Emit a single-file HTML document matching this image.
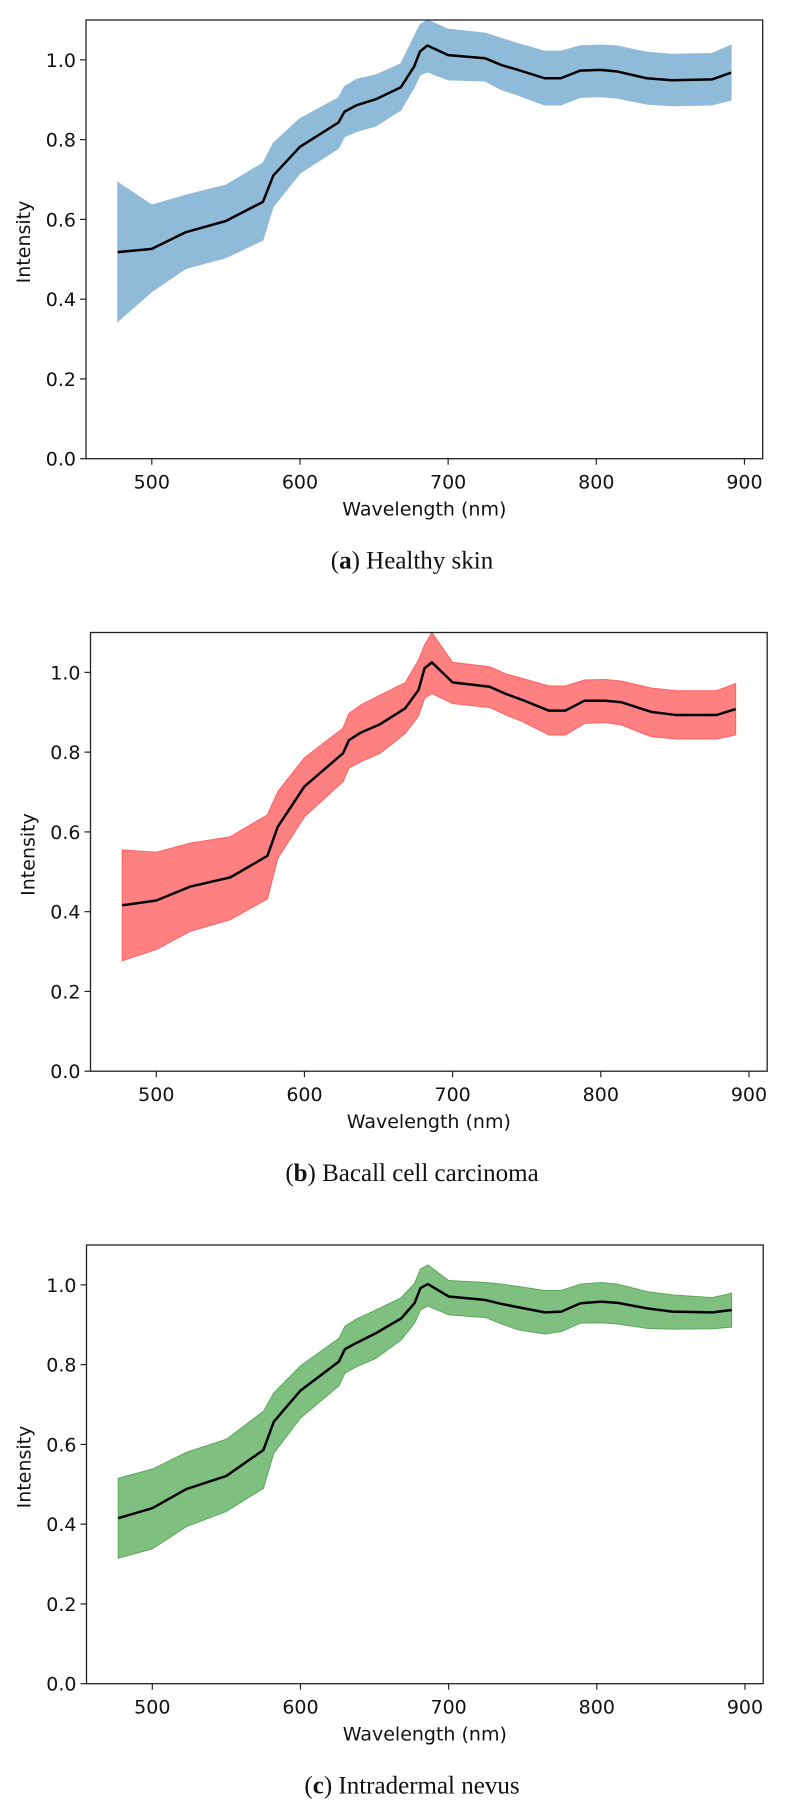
<!DOCTYPE html>
<html><head><meta charset="utf-8">
<style>
html,body{margin:0;padding:0;background:#fff;}
svg{display:block;}
.tick{font-family:"DejaVu Sans","Liberation Sans",sans-serif;font-size:19px;fill:#111;}
.cap{font-family:"Liberation Serif","DejaVu Serif",serif;font-size:25px;fill:#111;}
</style></head>
<body>
<svg id="fig" width="786" height="1812" viewBox="0 0 786 1812" xmlns="http://www.w3.org/2000/svg"></svg>
<script>
const wavelengths=[477,500,523,550,575,582,600,626,630,638,651,668,677,681,686,700,725,736,747,765,776,789,803,814,834,851,878,891];
const healthyMean=[0.518,0.526,0.568,0.596,0.644,0.710,0.782,0.843,0.870,0.886,0.901,0.931,0.983,1.021,1.036,1.012,1.004,0.987,0.975,0.954,0.954,0.973,0.975,0.971,0.954,0.949,0.951,0.968];
const healthyUpper=[0.693,0.636,0.661,0.686,0.741,0.791,0.853,0.905,0.933,0.951,0.962,0.990,1.058,1.088,1.100,1.077,1.067,1.054,1.041,1.022,1.022,1.035,1.037,1.035,1.019,1.014,1.016,1.037];
const healthyLower=[0.344,0.419,0.477,0.504,0.548,0.632,0.716,0.778,0.807,0.820,0.834,0.874,0.930,0.962,0.970,0.950,0.947,0.925,0.912,0.887,0.887,0.906,0.908,0.904,0.889,0.885,0.887,0.899];
const bccMean=[0.416,0.428,0.463,0.486,0.540,0.613,0.714,0.797,0.830,0.849,0.870,0.910,0.956,1.010,1.025,0.975,0.964,0.946,0.931,0.904,0.904,0.929,0.929,0.925,0.901,0.893,0.893,0.908];
const bccUpper=[0.555,0.549,0.572,0.588,0.643,0.701,0.786,0.860,0.897,0.918,0.943,0.974,1.031,1.068,1.100,1.025,1.014,0.996,0.985,0.966,0.966,0.981,0.982,0.978,0.961,0.954,0.954,0.972];
const bccLower=[0.277,0.305,0.351,0.380,0.432,0.534,0.638,0.726,0.760,0.776,0.797,0.847,0.891,0.935,0.947,0.922,0.912,0.893,0.877,0.843,0.843,0.872,0.874,0.868,0.839,0.833,0.833,0.843];
const nevusMean=[0.415,0.440,0.488,0.521,0.586,0.657,0.735,0.808,0.839,0.855,0.879,0.916,0.954,0.992,1.002,0.971,0.962,0.952,0.944,0.931,0.933,0.954,0.958,0.955,0.941,0.933,0.931,0.937];
const nevusUpper=[0.515,0.538,0.580,0.613,0.683,0.729,0.797,0.866,0.896,0.915,0.937,0.968,1.004,1.040,1.050,1.011,1.006,1.002,0.996,0.986,0.986,1.002,1.006,1.002,0.983,0.975,0.968,0.979];
const nevusLower=[0.315,0.338,0.394,0.432,0.490,0.578,0.666,0.747,0.779,0.795,0.816,0.862,0.904,0.937,0.947,0.925,0.918,0.902,0.887,0.877,0.883,0.904,0.905,0.902,0.891,0.889,0.890,0.894];
const xTicks=[500,600,700,800,900];
const yTicks=[0.0,0.2,0.4,0.6,0.8,1.0];
const captionLetters=["a","b","c"];
const captionTexts=["Healthy skin","Bacall cell carcinoma","Intradermal nevus"];

const NS="http://www.w3.org/2000/svg";
const svg=document.getElementById('fig');
function mk(tag,attrs,parent){const e=document.createElementNS(NS,tag);for(const k in attrs)e.setAttribute(k,attrs[k]);(parent||svg).appendChild(e);return e;}

const panels=[
 {left:86,top:20,mean:healthyMean,up:healthyUpper,lo:healthyLower,fill:"#8fbbd9",edge:"#8fbbd9",name:"healthy-skin"},
 {left:90.5,top:632.5,mean:bccMean,up:bccUpper,lo:bccLower,fill:"#ff8080",edge:"#ff6060",name:"basal-cell-carcinoma"},
 {left:86.5,top:1245,mean:nevusMean,up:nevusUpper,lo:nevusLower,fill:"#7fbf7f",edge:"#5aaa5a",name:"intradermal-nevus"}
];
const W=676.7,H=438.7,XMIN=455.6,XMAX=912.3,YMAX=1.1;

panels.forEach((p,i)=>{
 const g=mk('g',{});
 
 
 const xs=v=>p.left+(v-XMIN)/(XMAX-XMIN)*W;
 const ys=v=>p.top+H-(v/YMAX)*H;
 const clipId='clip'+i;
 const cp=mk('clipPath',{id:clipId},g);
 mk('rect',{x:p.left,y:p.top,width:W,height:H},cp);
 let d='';
 wavelengths.forEach((w,k)=>{d+=(k?'L':'M')+xs(w).toFixed(2)+','+ys(p.up[k]).toFixed(2);});
 for(let k=wavelengths.length-1;k>=0;k--)d+='L'+xs(wavelengths[k]).toFixed(2)+','+ys(p.lo[k]).toFixed(2);
 const band=mk('path',{d:d+'Z',fill:p.fill,stroke:p.edge,'stroke-width':1,'clip-path':'url(#'+clipId+')'},g);
 
 
 let ld='';
 wavelengths.forEach((w,k)=>{ld+=(k?'L':'M')+xs(w).toFixed(2)+','+ys(p.mean[k]).toFixed(2);});
 const line=mk('path',{d:ld,fill:'none',stroke:'#000','stroke-width':2.5,'stroke-linejoin':'round','clip-path':'url(#'+clipId+')'},g);
 
 
 const frame=mk('rect',{x:p.left,y:p.top,width:W,height:H,fill:'none',stroke:'#222','stroke-width':1.3},g);
 
 
 xTicks.forEach(t=>{
  const x=xs(t);
  mk('line',{x1:x,y1:p.top+H,x2:x,y2:p.top+H+6,stroke:'#222','stroke-width':1.2},g);
  const tx=mk('text',{x:x,y:p.top+H+30,'text-anchor':'middle',class:'tick'},g);
  tx.textContent=String(t);
  
  
 });
 yTicks.forEach(t=>{
  const y=ys(t);
  mk('line',{x1:p.left-6,y1:y,x2:p.left,y2:y,stroke:'#222','stroke-width':1.2},g);
  const ty=mk('text',{x:p.left-10,y:y+7,'text-anchor':'end',class:'tick'},g);
  ty.textContent=t.toFixed(1);
  
  
 });
 const xl=mk('text',{x:p.left+W/2,y:p.top+H+57,'text-anchor':'middle',class:'tick'},g);
 xl.textContent='Wavelength (nm)';
 
 
 const cy=p.top+222;
 const yl=mk('text',{x:0,y:0,'text-anchor':'middle',class:'tick',transform:'translate('+(p.left-56)+','+cy+') rotate(-90)'},g);
 yl.textContent='Intensity';
 
 
 const cap=mk('text',{x:412,y:p.top+H+110,'text-anchor':'middle',class:'cap'},g);
 const b=mk('tspan',{},cap);b.textContent='(';
 const b2=mk('tspan',{'font-weight':'bold'},cap);b2.textContent=captionLetters[i];
 const b3=mk('tspan',{},cap);b3.textContent=') '+captionTexts[i];
 
 
});
</script>
</body></html>
